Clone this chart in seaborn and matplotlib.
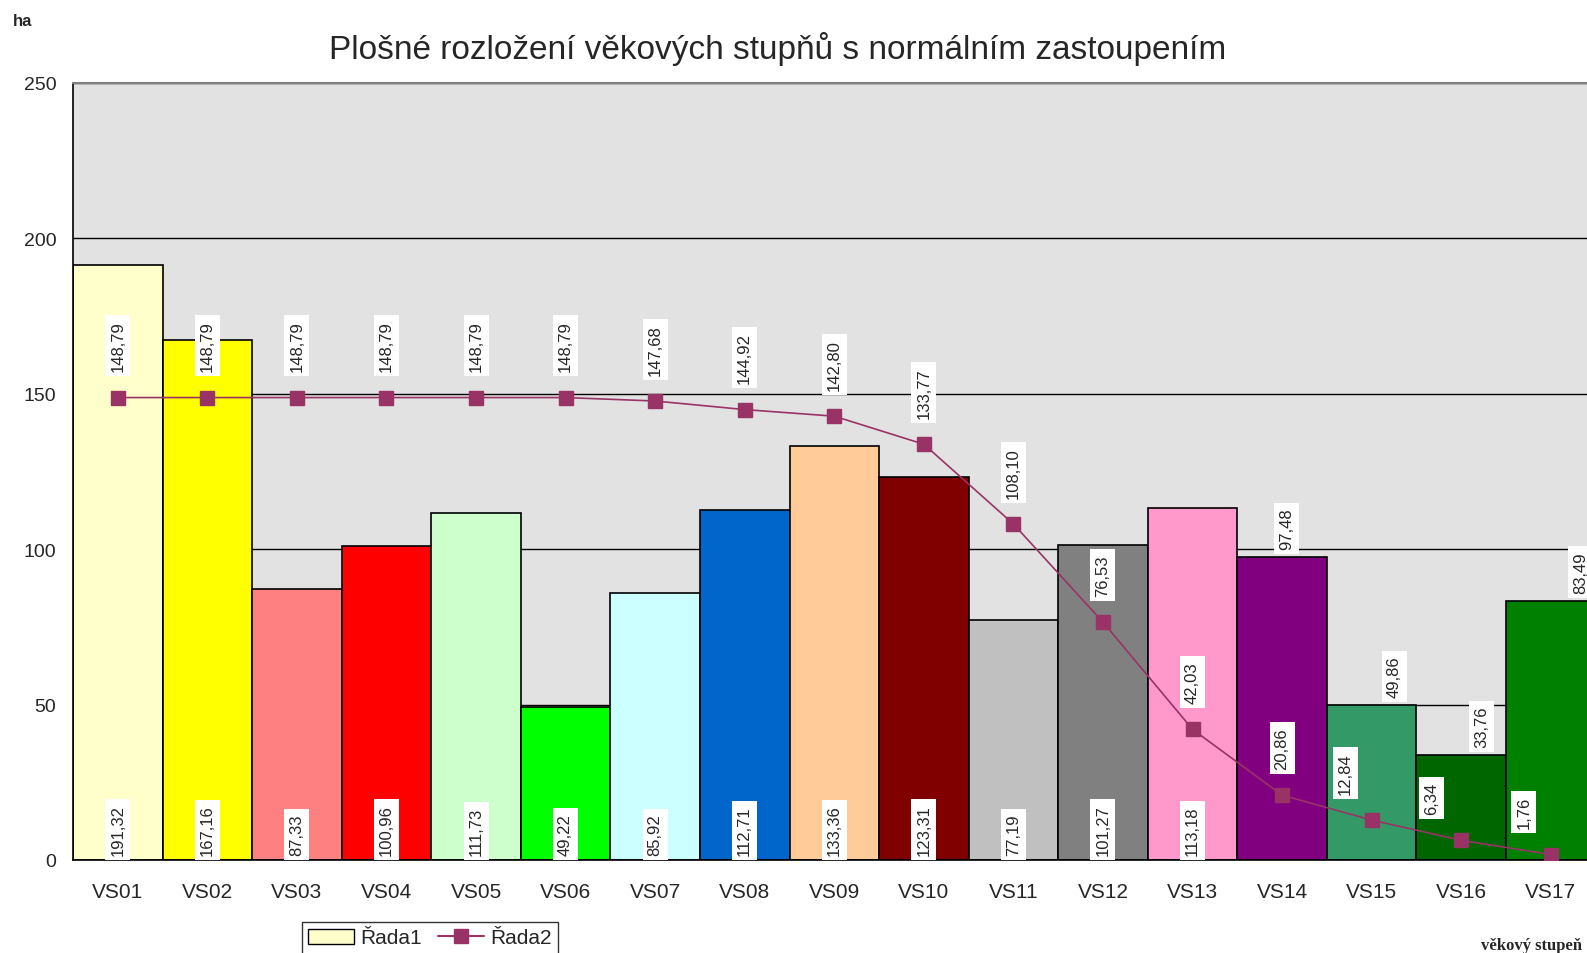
import numpy as np
import pandas as pd
import matplotlib
matplotlib.use("Agg")
import matplotlib.pyplot as plt
import seaborn as sns
from matplotlib.patches import Patch
from matplotlib.lines import Line2D
from matplotlib import font_manager

categories = ["VS01", "VS02", "VS03", "VS04", "VS05", "VS06", "VS07", "VS08", "VS09",
              "VS10", "VS11", "VS12", "VS13", "VS14", "VS15", "VS16", "VS17"]
rada1 = [191.32, 167.16, 87.33, 100.96, 111.73, 49.22, 85.92, 112.71, 133.36,
         123.31, 77.19, 101.27, 113.18, 97.48, 49.86, 33.76, 83.49]
rada2 = [148.79, 148.79, 148.79, 148.79, 148.79, 148.79, 147.68, 144.92, 142.80,
         133.77, 108.10, 76.53, 42.03, 20.86, 12.84, 6.34, 1.76]
bar_colors = ["#FFFFCC", "#FFFF00", "#FF8080", "#FF0000", "#CCFFCC", "#00FF00", "#CCFFFF",
              "#0066CC", "#FFCC99", "#800000", "#C0C0C0", "#808080", "#FF99CC", "#800080",
              "#339966", "#006600", "#008000"]
y_ticks = [0, 50, 100, 150, 200, 250]
# horizontal nudges of value labels (in category units)
bar_label_dx = [0, 0, 0, 0, 0, 0, 0, 0, 0, 0, 0, 0, 0, 0.05, 0.25, 0.23, 0.33]
line_label_dx = [0, 0, 0, 0, 0, 0, 0, 0, 0, 0, 0, 0, 0, 0, -0.29, -0.33, -0.3]

sns.set_style("white")
plt.rcParams['font.family'] = ['Liberation Sans', 'DejaVu Sans']

names = {f.name for f in font_manager.fontManager.ttflist}
narrow = ['Liberation Sans Narrow', 'Liberation Sans'] if 'Liberation Sans Narrow' in names else ['Liberation Sans']

W, H = 1587, 954
fig = plt.figure(figsize=(W / 100, H / 100), dpi=100)
ax = fig.add_axes([73 / W, 1 - 861 / H, 1522.6 / W, (861 - 84) / H])
ax.set_facecolor("#e2e2e2")

df = pd.DataFrame({"cat": categories, "val": rada1})
sns.barplot(data=df, x="cat", y="val", hue="cat", palette=bar_colors, legend=False,
            width=1.0, edgecolor="black", linewidth=1.2, ax=ax, zorder=2, saturation=1)

x = np.arange(len(categories))
ax.plot(x, rada2, color="#993366", linewidth=1.2, marker="s", markersize=10.5,
        markerfacecolor="#993366", markeredgecolor="#993366", zorder=4)

def fmt(v):
    return f"{v:.2f}".replace(".", ",")

box = dict(boxstyle="square,pad=0.3", facecolor="white", edgecolor="none")
for i, v in enumerate(rada1):
    if i < 13:
        ax.text(i + bar_label_dx[i], 1.5, fmt(v), rotation=90, ha="center", va="bottom",
                fontsize=12, bbox=box, zorder=5)
    else:
        ax.text(i + bar_label_dx[i], v + 2.5, fmt(v), rotation=90, ha="center", va="bottom",
                fontsize=12, bbox=box, zorder=5)
for i, v in enumerate(rada2):
    ax.text(i + line_label_dx[i], v + 8.5, fmt(v), rotation=90, ha="center", va="bottom",
            fontsize=12, bbox=box, zorder=5)

ax.set_ylim(0, 250)
ax.set_xlim(-0.5, len(categories) - 0.5)
ax.set_yticks(y_ticks)
ax.set_yticklabels([str(t) for t in y_ticks], fontsize=14)
ax.yaxis.grid(True, color="black", linewidth=1.0, zorder=1)
ax.set_axisbelow(True)
ax.set_xticks(x)
ax.set_xticklabels(categories, fontsize=15, family=narrow)
ax.set_xticks(np.arange(len(categories) + 1) - 0.5, minor=True)
ax.tick_params(axis="x", which="major", length=0, pad=16)
ax.tick_params(axis="x", which="minor", length=7, width=1.2, color="black", direction="out")
ax.tick_params(axis="y", which="major", length=8, width=1.2, color="black", direction="out", pad=4)
ax.set_xlabel("")
ax.set_ylabel("")
ax.spines["right"].set_visible(False)
for s in ["left", "bottom"]:
    ax.spines[s].set_color("black")
    ax.spines[s].set_linewidth(1.2)
ax.spines["top"].set_color("#808080")
ax.spines["top"].set_linewidth(1.5)

fig.text(778 / W, 1 - 49 / H, "Plošné rozložení věkových stupňů s normálním zastoupením",
         ha="center", va="center", fontsize=24)
fig.text(13 / W, 1 - 21 / H, "ha", ha="left", va="center", fontsize=12, fontweight="bold")
fig.text(1582 / W, 1 - 946 / H, "věkový stupeň", ha="right", va="center", fontsize=12,
         fontweight="bold", family=["Liberation Serif", "DejaVu Serif"])

handles = [Patch(facecolor="#FFFFCC", edgecolor="black", label="Řada1"),
           Line2D([0], [0], color="#993366", marker="s", markersize=10, label="Řada2")]
fig.legend(handles=handles, loc="center", bbox_to_anchor=(430 / W, 1 - 939 / H), ncol=2,
           frameon=True, edgecolor="black", fancybox=False, fontsize=15,
           handlelength=2.2, columnspacing=0.8, handletextpad=0.3, borderpad=0.3,
           borderaxespad=0)

fig.savefig("out.png", dpi=100)
